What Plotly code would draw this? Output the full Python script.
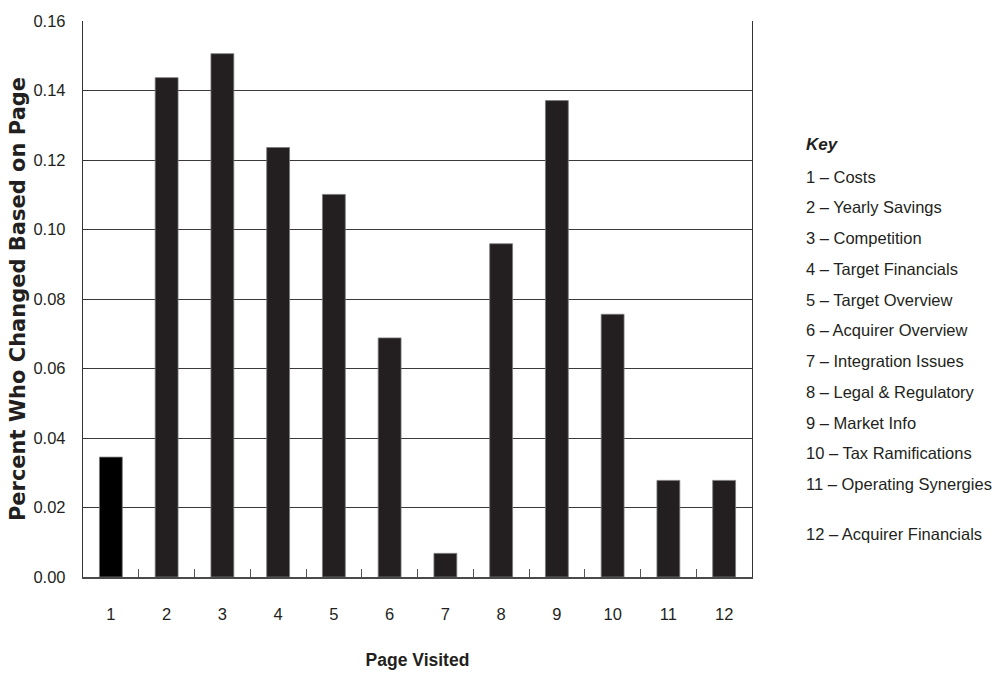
import plotly.graph_objects as go

# Share of visitors who changed their decision after viewing each page
pages = [str(i) for i in range(1, 13)]
pct_changed = [0.0345, 0.1437, 0.1506, 0.1236, 0.1101, 0.0688,
               0.0068, 0.0959, 0.1371, 0.0756, 0.0278, 0.0278]
bar_colors = ["#000000"] + ["#231f20"] * 11

key_title = "Key"
key_items = [
    "1 – Costs",
    "2 – Yearly Savings",
    "3 – Competition",
    "4 – Target Financials",
    "5 – Target Overview",
    "6 – Acquirer Overview",
    "7 – Integration Issues",
    "8 – Legal & Regulatory",
    "9 – Market Info",
    "10 – Tax Ramifications",
    "11 – Operating Synergies",
    "12 – Acquirer Financials",
]

BODY = "Liberation Sans, Arial, Helvetica, sans-serif"
WIDE_BOLD = "DejaVu Sans, Arial, sans-serif"
BODY_SIZE = 16.5
INK = "#231f20"

W, H = 997, 675
ML, MR, MT, MB = 83, 245, 21, 98
plot_h = H - MT - MB

fig = go.Figure(
    go.Bar(
        x=pages,
        y=pct_changed,
        marker=dict(color=bar_colors, line=dict(color="#7a7a7a", width=0.8)),
        hoverinfo="x+y",
    )
)

fig.update_layout(
    width=W,
    height=H,
    margin=dict(l=ML, r=MR, t=MT, b=MB, autoexpand=False),
    paper_bgcolor="white",
    plot_bgcolor="white",
    bargap=0.59,
    showlegend=False,
    font=dict(family=BODY, size=BODY_SIZE, color=INK),
)

fig.update_xaxes(
    type="category",
    automargin=False,
    tickson="boundaries",
    ticks="inside",
    ticklen=8,
    tickwidth=1,
    tickcolor="#555555",
    showline=True,
    linecolor="#4a4a4a",
    linewidth=1.5,
    showgrid=False,
    ticklabelstandoff=21,
    tickfont=dict(family=BODY, size=BODY_SIZE, color=INK),
    title=dict(text="<b>Page Visited</b>", font=dict(family=BODY, size=17.5, color=INK), standoff=32),
)

fig.update_yaxes(
    range=[0, 0.16],
    automargin=False,
    dtick=0.02,
    tickformat=".2f",
    ticks="inside",
    ticklen=5,
    tickcolor="#333333",
    showline=True,
    linecolor="#333333",
    linewidth=1.3,
    mirror=True,
    showgrid=True,
    gridcolor="#3a3a3a",
    gridwidth=1.2,
    zeroline=False,
    ticklabelstandoff=13,
    tickfont=dict(family=BODY, size=BODY_SIZE, color=INK),
    title=dict(
        text="<b>Percent Who Changed Based on Page</b>",
        font=dict(family=WIDE_BOLD, size=21, color=INK),
        standoff=2,
    ),
)

# Key listing the page names beside the plot
key_x = (804 - ML) / (W - ML - MR)


def to_paper_y(py):
    return (H - MB - py) / plot_h


fig.add_annotation(
    x=key_x, y=to_paper_y(145), xref="paper", yref="paper",
    xanchor="left", yanchor="middle", showarrow=False,
    text="<b><i>" + key_title + "</i></b>",
    font=dict(family=BODY, size=17, color=INK),
)

line_step = 30.75
for i, item in enumerate(key_items):
    py = 176.7 + i * line_step
    if i == len(key_items) - 1:
        py += 19
    fig.add_annotation(
        x=key_x, y=to_paper_y(py), xref="paper", yref="paper",
        xanchor="left", yanchor="middle", showarrow=False,
        text=item,
        font=dict(family=BODY, size=BODY_SIZE, color=INK),
    )

fig.write_html("out.html")
